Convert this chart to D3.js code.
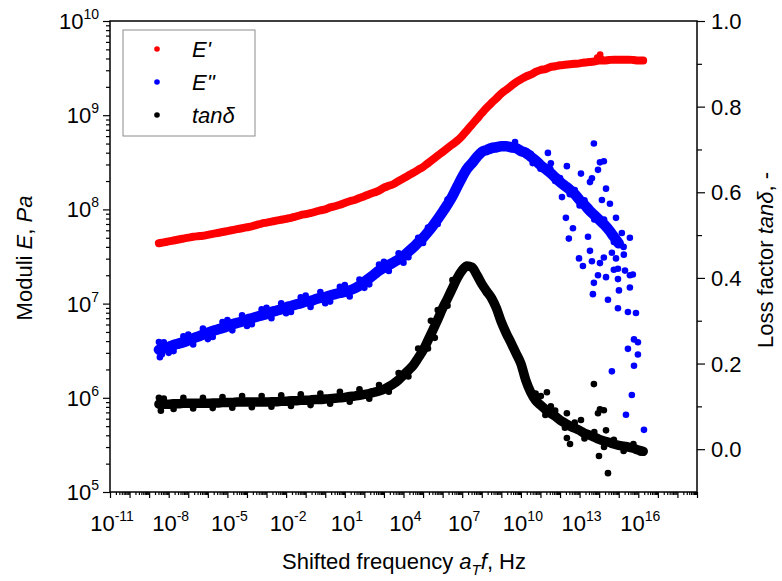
<!DOCTYPE html>
<html>
<head>
<meta charset="utf-8">
<script src="https://cdn.jsdelivr.net/npm/d3@7"></script>
<style>
  body { margin: 0; background: #fff; }
  text { font-family: "Liberation Sans", Arial, sans-serif; fill: #000; }
</style>
</head>
<body>
<svg id="chart" width="782" height="581"></svg>
<script>
// shifted frequency grid, log10(aT f / Hz)
const freqExp = [-8.5,-8.25,-8,-7.75,-7.5,-7.25,-7,-6.75,-6.5,-6.25,-6,-5.75,-5.5,-5.25,-5,-4.75,-4.5,-4.25,-4,-3.75,
  -3.5,-3.25,-3,-2.75,-2.5,-2.25,-2,-1.75,-1.5,-1.25,-1,-0.75,-0.5,-0.25,0,0.25,0.5,0.75,1,1.25,
  1.5,1.75,2,2.25,2.5,2.75,3,3.25,3.5,3.75,4,4.25,4.5,4.75,5,5.25,5.5,5.75,6,6.25,
  6.5,6.75,7,7.25,7.5,7.75,8,8.25,8.5,8.75,9,9.25,9.5,9.75,10,10.25,10.5,10.75,11,11.25,
  11.5,11.75,12,12.25,12.5,12.75,13,13.25,13.5,13.75,14,14.25,14.5,14.75,15,15.25,15.5,15.75,16,16.25];

// E' (Pa)
const storageMod = [4.37e7,4.47e7,4.57e7,4.68e7,4.79e7,4.90e7,5.01e7,5.13e7,5.19e7,5.25e7,5.37e7,5.50e7,5.62e7,5.75e7,5.89e7,6.03e7,6.17e7,6.31e7,6.46e7,6.61e7,
  6.84e7,7.08e7,7.24e7,7.41e7,7.59e7,7.76e7,7.94e7,8.13e7,8.41e7,8.71e7,8.91e7,9.12e7,9.44e7,9.77e7,1.00e8,1.05e8,1.08e8,1.12e8,1.17e8,1.22e8,
  1.26e8,1.32e8,1.38e8,1.45e8,1.51e8,1.58e8,1.70e8,1.78e8,1.86e8,2.00e8,2.14e8,2.29e8,2.45e8,2.63e8,2.82e8,3.09e8,3.39e8,3.72e8,4.07e8,4.47e8,
  4.90e8,5.37e8,6.03e8,6.92e8,7.94e8,9.12e8,1.05e9,1.20e9,1.35e9,1.51e9,1.70e9,1.86e9,2.04e9,2.24e9,2.40e9,2.57e9,2.69e9,2.88e9,3.02e9,3.09e9,
  3.24e9,3.31e9,3.39e9,3.43e9,3.47e9,3.51e9,3.55e9,3.63e9,3.67e9,3.72e9,3.80e9,3.80e9,3.85e9,3.89e9,3.89e9,3.89e9,3.89e9,3.85e9,3.80e9,3.80e9];

// E'' (Pa)
const lossMod = [3.24e6,3.35e6,3.47e6,3.63e6,3.76e6,3.89e6,4.07e6,4.27e6,4.47e6,4.68e6,4.90e6,5.13e6,5.31e6,5.50e6,5.75e6,6.03e6,6.24e6,6.46e6,6.76e6,7.00e6,
  7.24e6,7.50e6,7.76e6,8.13e6,8.41e6,8.71e6,9.12e6,9.44e6,9.77e6,1.01e7,1.05e7,1.07e7,1.11e7,1.15e7,1.17e7,1.22e7,1.26e7,1.30e7,1.33e7,1.38e7,
  1.45e7,1.55e7,1.70e7,1.86e7,2.04e7,2.24e7,2.40e7,2.57e7,2.75e7,2.95e7,3.20e7,3.55e7,3.95e7,4.45e7,5.00e7,5.75e7,6.70e7,7.90e7,9.40e7,1.13e8,
  1.38e8,1.75e8,2.20e8,2.70e8,3.10e8,3.60e8,4.07e8,4.27e8,4.47e8,4.57e8,4.68e8,4.68e8,4.57e8,4.47e8,4.17e8,3.98e8,3.63e8,3.31e8,2.95e8,2.69e8,
  2.45e8,2.19e8,1.95e8,1.78e8,1.62e8,1.45e8,1.26e8,1.12e8,9.77e7,8.71e7,7.76e7,6.92e7,6.03e7,5.13e7,4.37e7,null,null,null,null,null];

// tan delta (-)
const tanDelta = [0.105,0.105,0.105,0.106,0.106,0.107,0.107,0.107,0.107,0.107,0.107,0.108,0.108,0.109,0.109,0.109,0.110,0.110,0.110,0.110,
  0.110,0.110,0.110,0.111,0.111,0.112,0.112,0.113,0.113,0.114,0.114,0.115,0.116,0.116,0.117,0.118,0.119,0.120,0.121,0.123,
  0.124,0.126,0.128,0.130,0.133,0.136,0.140,0.146,0.153,0.162,0.173,0.184,0.196,0.213,0.231,0.254,0.278,0.303,0.329,0.352,
  0.376,0.400,0.418,0.428,0.425,0.407,0.386,0.369,0.353,0.329,0.297,0.271,0.248,0.224,0.200,0.161,0.133,0.114,0.103,0.093,
  0.084,0.077,0.068,0.061,0.054,0.049,0.044,0.037,0.033,0.028,0.023,0.019,0.016,0.012,0.009,0.007,0.005,0.002,-0.002,-0.005];

// extra scattered points [log10 f, value]
const storageExtra = [[13.9,4.1e9],[14.05,4.4e9],[14.1,4.0e9]];

const lossExtra = [[-8.5,3.9e6],[-8.45,2.7e6],[-8.4,3.6e6],[-8.35,2.9e6],
  [-8.25,3.89e6],[-8,3.0e6],[-7.75,3.13e6],[-7.25,4.51e6],[-7,4.7e6],[-6.75,3.68e6],[-6.25,5.43e6],[-6,4.2e6],
  [-5.75,4.42e6],[-5.25,6.38e6],[-5,6.7e6],[-4.75,5.20e6],[-4.25,7.49e6],[-4,5.8e6],[-3.75,6.03e6],[-3.25,8.70e6],
  [-3,9.0e6],[-2.75,7.01e6],[-2.25,1.01e7],[-2,7.9e6],[-1.75,8.14e6],[-1.25,1.17e7],[-1,1.22e7],[-0.75,9.22e6],
  [-0.25,1.33e7],[0,1.01e7],[0.25,1.05e7],[0.75,1.51e7],[1,1.57e7],[1.25,1.19e7],[1.75,1.80e7],[2,1.47e7],
  [2.25,1.60e7],[2.75,2.60e7],[3,2.78e7],[3.25,2.22e7],[3.75,3.42e7],[4,2.72e7],[4.25,3.1e7],[4.75,5.0e7],
  [5,4.4e7],[5.25,6.4e7],[5.75,7.0e7],[6.25,1.27e8],[9.7,5.2e8],[10.6,3.1e8],[10.5,3.9e8],[11,2.7e8],
  [11.5,2.7e8],[11.75,2.0e8],[12,2.15e8],[12.5,1.45e8],[12.75,1.6e8],[13,1.1e8],[13.25,1.25e8],[13.75,7.8e7],
  [14.25,7.8e7],[14.75,4.5e7],[15.25,4.0e7],
  [13.73,5.0e8],[14.04,3.16e8],[14.24,3.24e8],[13.94,2.63e8],[11.38,3.98e8],[11.53,3.09e8],[12.35,2.88e8],[13.07,2.40e8],
  [13.63,2.14e8],[13.53,1.95e8],[14.35,1.66e8],[12.10,1.35e8],[14.14,1.26e8],[14.55,1.15e8],[12.30,8.13e7],[12.66,6.31e7],
  [12.45,4.90e7],[13.43,5.13e7],[14.86,8.13e7],[15.16,5.62e7],[15.57,5.01e7],[13.53,3.63e7],[12.97,3.02e7],[13.17,2.51e7],
  [13.63,2.82e7],[14.04,2.69e7],[14.24,3.09e7],[14.65,3.47e7],[14.86,3.02e7],[15.26,3.31e7],[13.94,2.00e7],[14.35,1.91e7],
  [14.75,2.29e7],[14.96,2.34e7],[15.32,2.24e7],[15.57,2.00e7],[15.72,2.04e7],[14.96,1.82e7],[13.73,1.66e7],[15.57,1.48e7],
  [15.01,1.38e7],[13.68,1.26e7],[14.45,1.10e7],[14.96,8.91e6],[15.47,8.13e6],[15.88,7.94e6],[15.78,4.17e6],[15.98,3.89e6],
  [15.47,3.31e6],[15.98,2.88e6],[15.78,2.19e6],[14.65,1.91e6],[15.67,1.07e6],[15.37,6.61e5],[16.29,4.57e5]];

const tanExtra = [[-8.5,0.120],[-8.4,0.090],[-8.25,0.118],[-7.75,0.094],[-7.25,0.120],[-6.75,0.095],[-6.25,0.120],[-5.75,0.096],
  [-5.25,0.122],[-4.75,0.097],[-4.25,0.124],[-3.75,0.098],[-3.25,0.124],[-2.75,0.099],[-2.25,0.126],[-1.75,0.101],
  [-1.25,0.128],[-0.75,0.103],[-0.25,0.130],[0.25,0.106],[0.75,0.134],[1.25,0.111],[1.75,0.140],[2.25,0.118],
  [2.75,0.150],[3.25,0.134],[3.75,0.178],[4.25,0.170],[4.75,0.235],[5.25,0.235],[5.4,0.300],[5.6,0.260],
  [5.75,0.325],[6.25,0.335],[6.5,0.395],[10.75,0.130],[11.25,0.080],[11.75,0.090],[12.25,0.050],[12.75,0.062],
  [13.25,0.025],[13.75,0.040],[14.25,0.005],[14.75,0.022],[15.25,-0.004],[15.75,0.012],[16.1,-0.008],
  [13.73,0.152],[14.04,0.093],[13.94,0.084],[14.24,0.091],[14.35,0.044],[14.45,-0.056],[12.35,0.084],[13.07,0.068],
  [11.33,0.133],[11.53,0.100],[11.02,0.124],[13.99,-0.016],[12.35,0.026],[12.51,0.012]];

// axis ticks
const xLabelExps = [-11,-8,-5,-2,1,4,7,10,13,16];
const yLabelExps = [5,6,7,8,9,10];
const tanTicks = [0.0,0.2,0.4,0.6,0.8,1.0];
const tanMinor = [0.1,0.3,0.5,0.7,0.9];

const svg = d3.select("#chart");
const plotLeft = 110, plotRight = 697, plotTop = 21, plotBottom = 492;

const x = d3.scaleLog().domain([1e-11, 1e19]).range([plotLeft, plotRight]);
const yMod = d3.scaleLog().domain([1e5, 1e10]).range([plotBottom, plotTop]);
const yTan = d3.scaleLinear().domain([-0.1, 1.0]).range([plotBottom, plotTop]);

function toPts(vals) {
  let pts = [];
  for (var i = 0; i < freqExp.length; i++) {
    if (vals[i] !== null) pts.push([freqExp[i], vals[i]]);
  }
  return pts;
}

// dense measured points merge into a band: draw the band, then the dots on top
function drawSeries(pts, extra, yScale, color, bandWidth) {
  let line = d3.line()
    .x(d => x(Math.pow(10, d[0])))
    .y(d => yScale(d[1]))
    .curve(d3.curveMonotoneX);
  svg.append("path")
    .datum(pts)
    .attr("d", line)
    .attr("fill", "none")
    .attr("stroke", color)
    .attr("stroke-width", bandWidth)
    .attr("stroke-linecap", "round")
    .attr("stroke-linejoin", "round");
  svg.append("g")
    .selectAll("circle")
    .data(pts.concat(extra))
    .join("circle")
    .attr("cx", d => x(Math.pow(10, d[0])))
    .attr("cy", d => yScale(d[1]))
    .attr("r", 3.3)
    .attr("fill", color);
}

drawSeries(toPts(storageMod), storageExtra, yMod, "#ff0000", 8);
drawSeries(toPts(lossMod), lossExtra, yMod, "#0000ff", 10.5);
drawSeries(toPts(tanDelta), tanExtra, yTan, "#000000", 9.5);

/* AXES */
let minorX = [], decadeX = [];
for (var e = -11; e <= 18; e++) {
  for (var m = 2; m <= 9; m++) minorX.push(m * Math.pow(10, e));
}
for (var e = -11; e <= 19; e++) decadeX.push(Math.pow(10, e));
let minorY = [];
for (var e = 5; e < 10; e++) {
  for (var m = 2; m <= 9; m++) minorY.push(m * Math.pow(10, e));
}

function tickGroup(axis, transform) {
  let g = svg.append("g").attr("transform", transform).call(axis);
  g.select(".domain").remove();
  g.selectAll("line").attr("stroke", "#000").attr("stroke-width", 1.2);
  g.selectAll("text").remove();
  return g;
}

tickGroup(d3.axisBottom(x).tickValues(minorX).tickSize(3).tickSizeOuter(0), `translate(0,${plotBottom})`);
tickGroup(d3.axisBottom(x).tickValues(decadeX).tickSize(6).tickSizeOuter(0), `translate(0,${plotBottom})`);
tickGroup(d3.axisLeft(yMod).tickValues(minorY).tickSize(4).tickSizeOuter(0), `translate(${plotLeft},0)`);
tickGroup(d3.axisLeft(yMod).tickValues(yLabelExps.map(d => Math.pow(10, d))).tickSize(7).tickSizeOuter(0), `translate(${plotLeft},0)`);
tickGroup(d3.axisRight(yTan).tickValues(tanMinor).tickSize(5).tickSizeOuter(0), `translate(${plotRight},0)`);
tickGroup(d3.axisRight(yTan).tickValues(tanTicks).tickSize(8).tickSizeOuter(0), `translate(${plotRight},0)`);

// frame
svg.append("rect")
  .attr("x", plotLeft).attr("y", plotTop)
  .attr("width", plotRight - plotLeft).attr("height", plotBottom - plotTop)
  .attr("fill", "none").attr("stroke", "#000").attr("stroke-width", 1.5);

function powLabel(sel, exp) {
  sel.append("tspan").text("10");
  sel.append("tspan").attr("dy", -10).style("font-size", "14px").text(exp);
}

for (var exp of xLabelExps) {
  svg.append("text")
    .attr("x", x(Math.pow(10, exp)) + 2)
    .attr("y", 531)
    .attr("text-anchor", "middle")
    .style("font-size", "22px")
    .call(powLabel, exp);
}

for (var exp of yLabelExps) {
  svg.append("text")
    .attr("x", 99)
    .attr("y", yMod(Math.pow(10, exp)) + 8)
    .attr("text-anchor", "end")
    .style("font-size", "22px")
    .call(powLabel, exp);
}

for (var t of tanTicks) {
  svg.append("text")
    .attr("x", 711)
    .attr("y", yTan(t) + 8)
    .style("font-size", "22px")
    .text(d3.format(".1f")(t));
}

/* TITLES */
let xt = svg.append("text")
  .attr("x", 404).attr("y", 569)
  .attr("text-anchor", "middle")
  .style("font-size", "22px");
xt.append("tspan").text("Shifted frequency ");
xt.append("tspan").style("font-style", "italic").text("a");
xt.append("tspan").style("font-style", "italic").style("font-size", "15px").attr("dy", 6).text("T");
xt.append("tspan").style("font-style", "italic").attr("dy", -6).text("f");
xt.append("tspan").text(", Hz");

let yt = svg.append("text")
  .attr("transform", "translate(32,258) rotate(-90)")
  .attr("text-anchor", "middle")
  .style("font-size", "22px");
yt.append("tspan").text("Moduli ");
yt.append("tspan").style("font-style", "italic").text("E");
yt.append("tspan").text(", ");
yt.append("tspan").style("font-style", "italic").text("Pa");

let rt = svg.append("text")
  .attr("transform", "translate(773,260) rotate(-90)")
  .attr("text-anchor", "middle")
  .style("font-size", "22px");
rt.append("tspan").text("Loss factor ");
rt.append("tspan").style("font-style", "italic").text("tan\u03b4");
rt.append("tspan").text(", -");

/* LEGEND */
const legendNames = ["E'", "E''", "tan\u03b4"];
const legendColors = ["#ff0000", "#0000ff", "#000000"];
svg.append("rect")
  .attr("x", 123).attr("y", 30).attr("width", 132).attr("height", 106)
  .attr("fill", "#fff").attr("stroke", "#8c8c8c").attr("stroke-width", 1);
legendNames.forEach((name, i) => {
  let cy = 49 + i * 33;
  svg.append("circle").attr("cx", 157).attr("cy", cy).attr("r", 2.8).attr("fill", legendColors[i]);
  svg.append("text")
    .attr("x", 192).attr("y", cy + 8)
    .style("font-size", "22px")
    .style("font-style", "italic")
    .text(name);
});
</script>
</body>
</html>
